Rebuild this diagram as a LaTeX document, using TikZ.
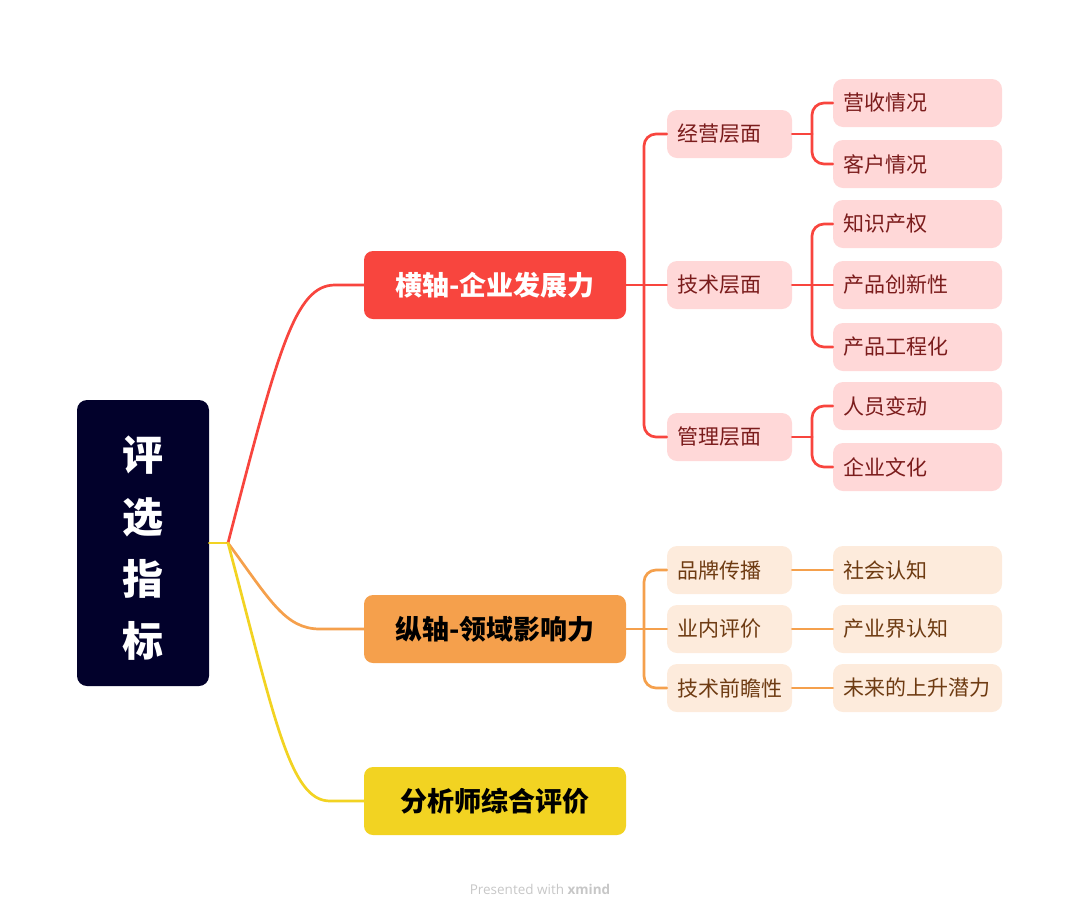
\documentclass[tikz,border=0pt]{standalone}
\usepackage{fontspec}
\setmainfont{Noto Sans CJK SC}
\newfontfamily\wmfont{Open Sans}
\definecolor{rootc}{HTML}{02012B}
\definecolor{redc}{HTML}{F8453E}
\definecolor{orac}{HTML}{F5A04C}
\definecolor{yelc}{HTML}{F2D322}
\definecolor{pinkf}{HTML}{FFD8D8}
\definecolor{pinkt}{HTML}{7B1C1C}
\definecolor{peachf}{HTML}{FDEBDC}
\definecolor{peacht}{HTML}{6E3B12}
\tikzset{
  rootbox/.style={fill=rootc, rounded corners=10pt, minimum width=132pt, minimum height=286pt, inner sep=0pt},
  roottext/.style={text=white, font=\fontsize{41}{62}\selectfont\bfseries, align=center, inner sep=0pt},
  mainbox/.style={rounded corners=9pt, minimum width=262pt, minimum height=68pt, inner sep=0pt, font=\fontsize{27}{32}\selectfont\bfseries},
  lvtwo/.style={rounded corners=10pt, minimum height=48pt, inner ysep=0pt, inner xsep=10pt, text width=105pt, align=left, font=\fontsize{21}{25}\selectfont},
  lvthree/.style={rounded corners=10pt, minimum height=48pt, inner ysep=0pt, inner xsep=10pt, text width=149pt, align=left, font=\fontsize{21}{25}\selectfont},
  redn/.style={fill=pinkf, text=pinkt},
  oran/.style={fill=peachf, text=peacht},
  conn/.style={line width=2.7pt, line cap=round},
  rc/.style={rounded corners=12pt},
}
\begin{document}
\begin{tikzpicture}[x=1pt,y=-1pt]
\useasboundingbox (0,0) rectangle (1080,914);
% root
\node[rootbox] (root) at (143,543) {};
\node[roottext] (roottxt) at (143,548) {评\\选\\指\\标};
% main nodes
\node[mainbox, fill=redc, text=white] (m1) at (495,285) {横轴-企业发展力};
\node[mainbox, fill=orac, text=black] (m2) at (495,629) {纵轴-领域影响力};
\node[mainbox, fill=yelc, text=black] (m3) at (495,801) {分析师综合评价};
% level 2 red
\node[lvtwo, redn] (a1) at (729.5,134) {经营层面};
\node[lvtwo, redn] (a2) at (729.5,285) {技术层面};
\node[lvtwo, redn] (a3) at (729.5,437) {管理层面};
% level 3 red
\node[lvthree, redn] (b1) at (917.5,103) {营收情况};
\node[lvthree, redn] (b2) at (917.5,164) {客户情况};
\node[lvthree, redn] (b3) at (917.5,224) {知识产权};
\node[lvthree, redn] (b4) at (917.5,285) {产品创新性};
\node[lvthree, redn] (b5) at (917.5,347) {产品工程化};
\node[lvthree, redn] (b6) at (917.5,406) {人员变动};
\node[lvthree, redn] (b7) at (917.5,467) {企业文化};
% level 2 orange
\node[lvtwo, oran] (c1) at (729.5,570) {品牌传播};
\node[lvtwo, oran] (c2) at (729.5,629) {业内评价};
\node[lvtwo, oran] (c3) at (729.5,688) {技术前瞻性};
% level 3 orange
\node[lvthree, oran] (d1) at (917.5,570) {社会认知};
\node[lvthree, oran] (d2) at (917.5,629) {产业界认知};
\node[lvthree, oran] (d3) at (917.5,688) {未来的上升潜力};
% connectors root
\coordinate (j) at (228,543);
\draw[conn, yelc] (root.east) -- (j);
\draw[conn, redc] (j) .. controls (278,350) and (295,285) .. (335,285) -- (m1.west);
\draw[conn, orac] (j) .. controls (270,600) and (285,629) .. (320,629) -- (m2.west);
\draw[conn, yelc] (j) .. controls (275,720) and (290,801) .. (330,801) -- (m3.west);
% red level 2
\coordinate (r1) at (644,285);
\draw[conn, redc] (m1.east) -- (a2.west);
\draw[conn, redc, rc] (r1) |- (a1.west);
\draw[conn, redc, rc] (r1) |- (a3.west);
% red level 3
\coordinate (s1) at (812,134);
\coordinate (s2) at (812,285);
\coordinate (s3) at (812,437);
\draw[conn, redc] (a1.east) -- (s1);
\draw[conn, redc, rc] (s1) |- (b1.west);
\draw[conn, redc, rc] (s1) |- (b2.west);
\draw[conn, redc] (a2.east) -- (b4.west);
\draw[conn, redc, rc] (s2) |- (b3.west);
\draw[conn, redc, rc] (s2) |- (b5.west);
\draw[conn, redc] (a3.east) -- (s3);
\draw[conn, redc, rc] (s3) |- (b6.west);
\draw[conn, redc, rc] (s3) |- (b7.west);
% orange level 2
\coordinate (r2) at (644,629);
\draw[conn, orac] (m2.east) -- (c2.west);
\draw[conn, orac, rc] (r2) |- (c1.west);
\draw[conn, orac, rc] (r2) |- (c3.west);
% orange level 3
\draw[conn, orac] (c1.east) -- (d1.west);
\draw[conn, orac] (c2.east) -- (d2.west);
\draw[conn, orac] (c3.east) -- (d3.west);
% watermark
\node[text=black!22, font=\wmfont\fontsize{13.5}{16}\selectfont] (wm) at (540,889) {Presented with \textbf{xmind}};
\end{tikzpicture}
\end{document}
